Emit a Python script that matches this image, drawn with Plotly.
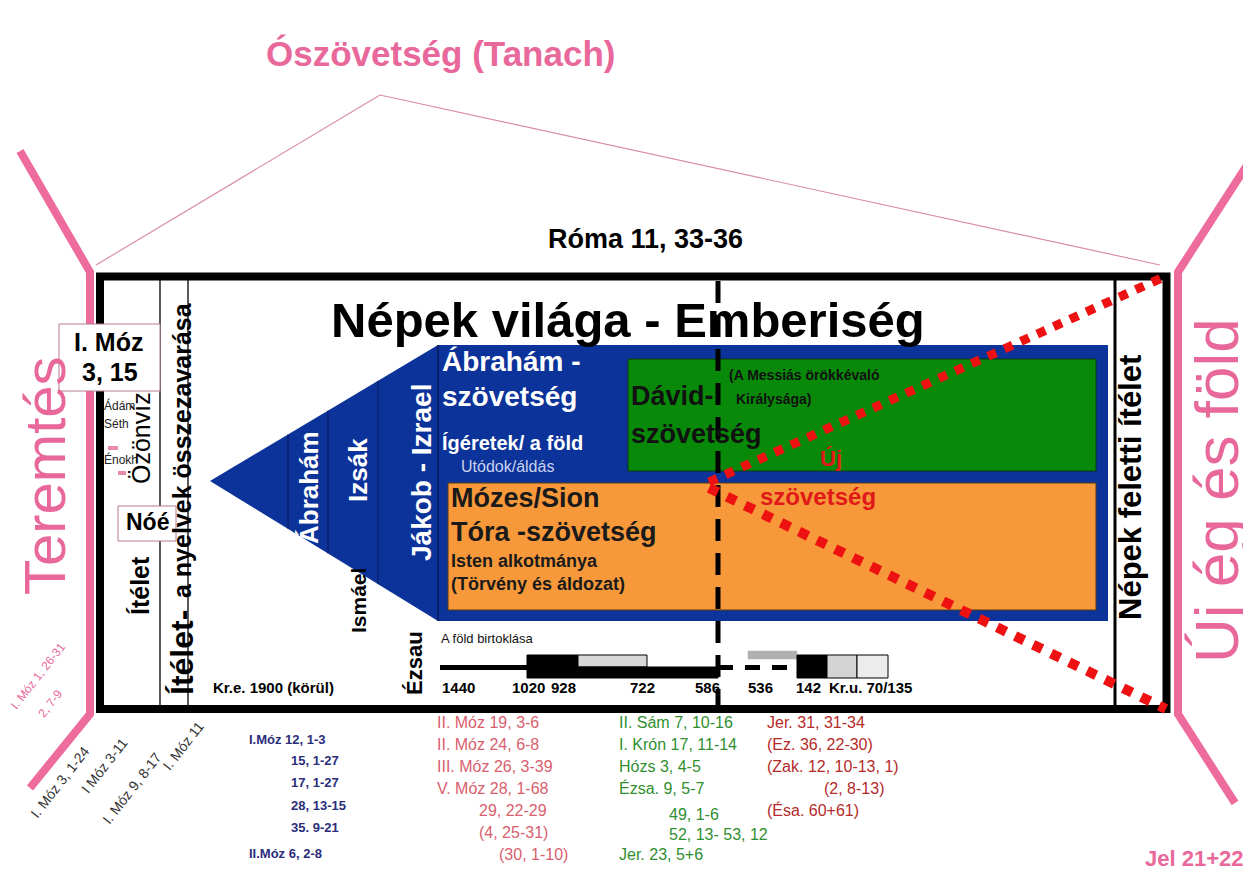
import plotly.graph_objects as go

W, H = 1251, 887

# ---------------- content (data) ----------------
title_text = "Ószövetség (Tanach)"
verse_top = "Róma 11, 33-36"
main_title = "Népek világa - Emberiség"
left_label = "Teremtés"
right_label = "Új ég és föld"
right_judgement = "Népek feletti ítélet"
bottom_right = "Jel 21+22"

patriarchs = ["Ábrahám", "Izsák", "Jákob - Izrael"]
side_sons = ["Ismáel", "Ézsau"]
early_people = ["Ádám", "Séth", "Énokh"]

abraham_cov = ["Ábrahám -", "szövetség", "Ígéretek/ a föld", "Utódok/áldás"]
david_cov = ["Dávid-", "szövetség", "(A Messiás örökkévaló", "Királysága)"]
moses_cov = ["Mózes/Sion", "Tóra -szövetség", "Isten alkotmánya", "(Törvény és áldozat)"]
new_cov = ["Új", "szövetség"]

timeline_caption = "A föld birtoklása"
timeline_years = ["1440", "1020", "928", "722", "586", "536", "142", "Kr.u. 70/135"]
era_label = "Kr.e. 1900 (körül)"

creation_refs = ["I. Móz 1, 26-31", "2, 7-9"]
genesis_refs = ["I. Móz 3, 1-24", "I Móz 3-11", "I. Móz 9, 8-17", "I. Móz 11"]
abraham_refs = ["I.Móz 12, 1-3", "15, 1-27", "17, 1-27", "28, 13-15", "35. 9-21", "II.Móz 6, 2-8"]
torah_refs = ["II. Móz 19, 3-6", "II. Móz 24, 6-8", "III. Móz 26, 3-39", "V. Móz 28, 1-68",
              "29, 22-29", "(4, 25-31)", "(30, 1-10)"]
david_refs = ["II. Sám 7, 10-16", "I. Krón 17, 11-14", "Hózs 3, 4-5", "Ézsa. 9, 5-7",
              "49, 1-6", "52, 13- 53, 12", "Jer. 23, 5+6"]
newcov_refs = ["Jer. 31, 31-34", "(Ez. 36, 22-30)", "(Zak. 12, 10-13, 1)", "(2, 8-13)", "(Ésa. 60+61)"]

# ---------------- layout geometry & styles ----------------
PINK = "#e9689b"
BLUE = "#0c3399"
GREEN = "#08890a"
ORANGE = "#f7983a"
RED = "#ee1111"
SANS = "Liberation Sans, Arial, sans-serif"

shapes = []
ann = []


def rect(x0, y0, x1, y1, fill=None, line=None, lw=0):
    shapes.append(dict(type="rect", xref="x", yref="y", x0=x0, y0=y0, x1=x1, y1=y1,
                       fillcolor=fill or "rgba(0,0,0,0)",
                       line=dict(color=line or "rgba(0,0,0,0)", width=lw), layer="above"))


def seg(x0, y0, x1, y1, color, w, dash="solid"):
    shapes.append(dict(type="line", xref="x", yref="y", x0=x0, y0=y0, x1=x1, y1=y1,
                       line=dict(color=color, width=w, dash=dash), layer="above"))


def path(pts, fill=None, line=None, lw=0, close=False):
    d = "M" + " L".join(f"{x},{y}" for x, y in pts) + (" Z" if close else "")
    shapes.append(dict(type="path", xref="x", yref="y", path=d,
                       fillcolor=fill or "rgba(0,0,0,0)",
                       line=dict(color=line or "rgba(0,0,0,0)", width=lw), layer="above"))


def text(x, y, s, size, color="black", bold=False, family=SANS, angle=0, xa="center", ya="middle"):
    ann.append(dict(x=x, y=y, xref="x", yref="y", text=(f"<b>{s}</b>" if bold else s),
                    showarrow=False, font=dict(size=size, color=color, family=family),
                    textangle=angle, xanchor=xa, yanchor=ya, borderpad=0))


# pink frame lines
path([(372, 87), (88, 257)], line="#d98ea6", lw=1.2)
path([(372, 87), (1152, 257)], line="#d98ea6", lw=1.2)
path([(12, 143), (82, 264), (82, 706), (22, 780)], line="#ee6b9d", lw=8)
path([(1245, 148), (1170, 264), (1170, 706), (1227, 795)], line="#ee6b9d", lw=8)

# main frame
rect(92, 268.5, 1158.5, 701, fill="white", line="black", lw=8)
seg(152, 272, 152, 697, "black", 1.3)
seg(180, 272, 180, 697, "black", 1.3)
seg(1107, 272, 1107, 697, "black", 3)

# blue covenant block with triangle
apex = (202, 473)
bx0, by0, bx1, by1 = 430, 337, 1100, 613
path([apex, (bx0, by0), (bx1, by0), (bx1, by1), (bx0, by1)], fill=BLUE, close=True)
for xd in [280, 320, 370]:
    t = (xd - apex[0]) / (bx0 - apex[0])
    seg(xd, apex[1] - t * (apex[1] - by0), xd, apex[1] + t * (by1 - apex[1]), "#061a5a", 1)
seg(bx0, by0, bx0, by1, "#061a5a", 1.5)
rect(620, 351, 1088, 463, fill=GREEN, line="#0b3a0b", lw=1)
rect(440, 475, 1088, 602, fill=ORANGE, line="#5a3a10", lw=1)

# timeline
seg(432, 659.5, 520, 659.5, "black", 5)
rect(519, 647, 570, 670, fill="black", line="black", lw=1)
rect(570, 647, 639, 659, fill="#d8d8d8", line="black", lw=1)
rect(570, 659, 710, 670, fill="black", line="black", lw=1)
seg(710, 659.5, 785, 659.5, "black", 5, dash="15px,12px")
rect(740, 643, 789, 651, fill="#b0b0b0", line="#b0b0b0", lw=0.5)
rect(789, 647, 819, 670, fill="black", line="black", lw=1)
rect(819, 647, 849, 670, fill="#d4d4d4", line="black", lw=1)
rect(849, 647, 880, 670, fill="#ececec", line="black", lw=1)

# dashed divider
seg(710, 273, 710, 698, "black", 5, dash="22px,12px")

# new covenant red dotted rays
seg(701, 474, 1158, 268, RED, 9, dash="9px,9px")
seg(701, 480, 1158, 701, RED, 10, dash="10px,10px")

# small pink dashes near genealogies
seg(100, 440, 110, 440, "#e98aa8", 4)
seg(110, 465, 118, 465, "#e98aa8", 4)

# label boxes
rect(51, 316, 152, 383, fill="white", line="#b57a94", lw=1)
rect(110, 498, 168, 533, fill="white", line="#b57a94", lw=1)

# ---------------- texts ----------------
text(432, 45, title_text, 35, PINK, True)
text(637, 231, verse_top, 27, "black", True)
text(620, 312, main_title, 49, "black", True)
text(36, 468, left_label, 58, PINK, False, angle=-90)
text(1208, 483, right_label, 62, PINK, False, angle=-90)
text(1122, 480, right_judgement, 31, "black", True, angle=-90)
text(1186, 850, bottom_right, 22, PINK, True)

# patriarchs
for (px, py, ps), name in zip([(301, 480, 26), (350, 462, 26), (413, 465, 28)], patriarchs):
    text(px, py, name, ps, "white", True, angle=-90)
for (px, py, ps), name in zip([(350, 593, 21), (406, 655, 22)], side_sons):
    text(px, py, name, ps, "black", True, angle=-90)
text(204, 679, era_label, 15, "black", True, xa="left")

# left columns
text(132, 578, "Ítélet", 25, "black", True, angle=-90)
text(133, 430, "Özönvíz", 25, "black", False, angle=-90)
text(174, 645, "Ítélet-", 32, "black", True, angle=-90)
text(174, 442, "a nyelvek összezavarása", 25, "black", True, angle=-90)
for py, name in zip([397, 416, 451], early_people):
    text(95, py, name, 12, "#222222", False, xa="left")
text(100, 334, "I. Móz", 25, "black", True)
text(102, 364, "3, 15", 25, "black", True)
text(139, 514, "Nóé", 23, "black", True)

# covenant block texts
for (py, ps, b, col, xx), s in zip([(353, 28, True, "white", 433), (388, 28, True, "white", 433),
                                     (435, 20, True, "white", 433), (458, 16, False, "#c8d4f0", 452)],
                                    abraham_cov):
    text(xx, py, s, ps, col, b, xa="left")
for (py, ps, xx), s in zip([(388, 27, 622), (426, 27, 622), (367, 14, 720), (391, 14, 727)], david_cov):
    text(xx, py, s, ps, "#111111", True, xa="left")
for (py, ps), s in zip([(490, 27), (524, 27), (553, 18), (576, 18)], moses_cov):
    text(442, py, s, ps, "#1a1a1a", True, xa="left")
text(823, 450, new_cov[0], 22, "#e01818", True)
text(810, 488, new_cov[1], 24, "#e01818", True)

# timeline labels
text(432, 630, timeline_caption, 13, "#111111", False, xa="left")
year_x = [450, 520, 555, 634, 699, 752, 800]
for xx, yr in zip(year_x, timeline_years[:-1]):
    text(xx, 679, yr, 15, "black", True)
text(820, 679, timeline_years[-1], 15, "black", True, xa="left")

# rotated references bottom-left
text(30, 668, creation_refs[0], 12, PINK, False, angle=-52)
text(42, 696, creation_refs[1], 12, PINK, False, angle=-52)
for (gx, gy), s in zip([(52, 774), (96, 758), (124, 780), (175, 738)], genesis_refs):
    text(gx, gy, s, 14, "#333333", False, angle=-52)

# reference columns
ab_y = [731, 752, 774, 797, 819, 845]
ab_x = [240, 282, 282, 282, 282, 240]
for xx, yy, s in zip(ab_x, ab_y, abraham_refs):
    text(xx, yy, s, 13, "#2b2d7a", True, xa="left")

tor_y = [714, 736, 758, 780, 802, 824, 846]
tor_x = [428, 428, 428, 428, 470, 470, 490]
for xx, yy, s in zip(tor_x, tor_y, torah_refs):
    text(xx, yy, s, 16, "#d8606e", False, xa="left")

dav_y = [714, 736, 758, 780, 806, 826, 846]
dav_x = [610, 610, 610, 610, 660, 660, 610]
for xx, yy, s in zip(dav_x, dav_y, david_refs):
    text(xx, yy, s, 16, "#2f8f2f", False, xa="left")

nc_y = [714, 736, 758, 780, 802]
nc_x = [758, 758, 758, 815, 758]
for xx, yy, s in zip(nc_x, nc_y, newcov_refs):
    text(xx, yy, s, 16, "#b52a2a", False, xa="left")

fig = go.Figure(go.Scatter(x=[], y=[]))
fig.update_layout(
    width=W, height=H, margin=dict(l=0, r=0, t=0, b=0),
    paper_bgcolor="white", plot_bgcolor="white", showlegend=False,
    xaxis=dict(range=[0, W], visible=False, fixedrange=True),
    yaxis=dict(range=[H, 0], visible=False, fixedrange=True),
    shapes=shapes, annotations=ann,
)
fig.write_html("out.html", config={"displayModeBar": False})
